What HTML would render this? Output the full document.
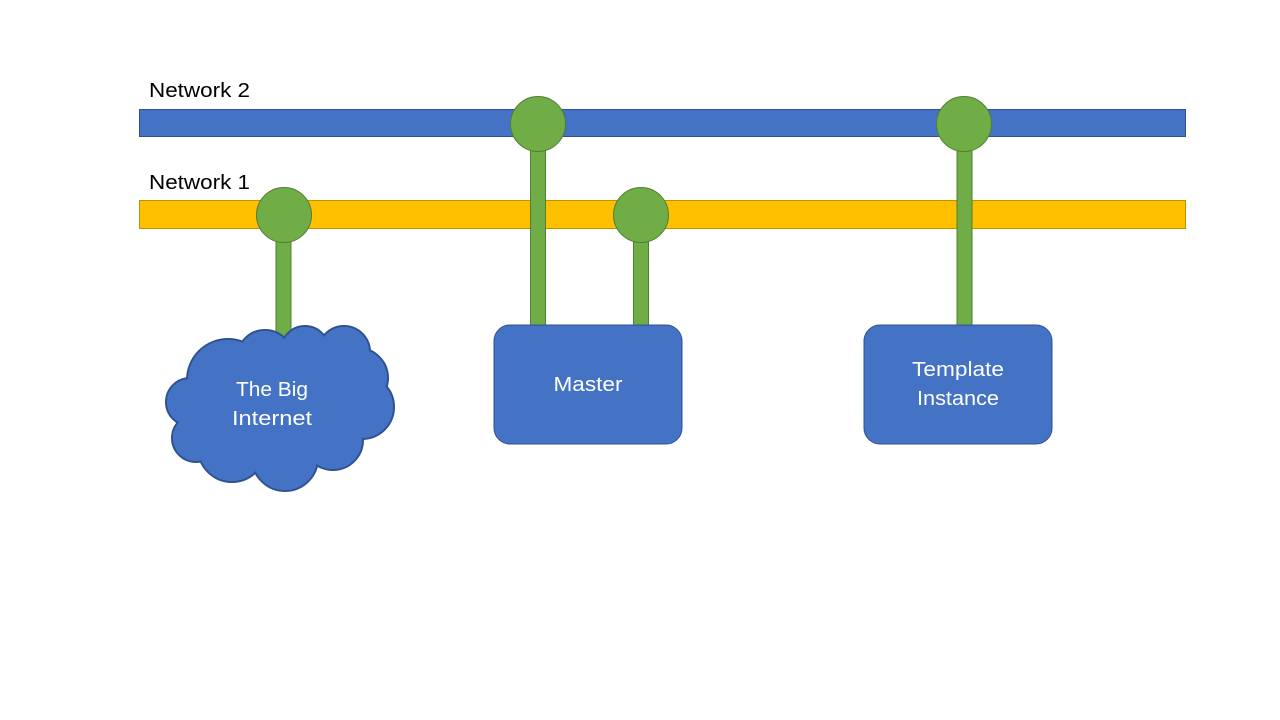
<!DOCTYPE html>
<html><head><meta charset="utf-8"><style>
html,body{margin:0;padding:0;background:#fff;}
svg{display:block;}
text{font-family:"Liberation Sans",sans-serif;}
</style></head><body>
<svg width="1280" height="720" viewBox="0 0 1280 720" xmlns="http://www.w3.org/2000/svg">
<rect x="0" y="0" width="1280" height="720" fill="#fff"/>
<text x="149" y="97" font-size="20" fill="#000" textLength="101" lengthAdjust="spacingAndGlyphs">Network 2</text>
<text x="149" y="189" font-size="20" fill="#000" textLength="101" lengthAdjust="spacingAndGlyphs">Network 1</text>
<rect x="139.5" y="109.5" width="1046" height="27" fill="#4472C4" stroke="#2F528F" stroke-width="1"/>
<rect x="139.5" y="200.5" width="1046" height="28" fill="#FFC000" stroke="#BF9000" stroke-width="1"/>
<g fill="#70AD47" stroke="#507E32" stroke-width="1">
<rect x="276" y="229" width="15" height="108"/>
<rect x="530.5" y="150" width="15" height="176"/>
<rect x="633.5" y="242" width="15" height="84"/>
<rect x="957" y="150" width="15" height="176"/>
<circle cx="538" cy="124" r="27.5"/>
<circle cx="964" cy="124" r="27.5"/>
<circle cx="284" cy="215" r="27.5"/>
<circle cx="641" cy="215" r="27.5"/>
</g>
<rect x="494" y="325" width="188" height="119" rx="16" fill="#4472C4" stroke="#2F528F" stroke-width="1"/>
<rect x="864" y="325" width="188" height="119" rx="16" fill="#4472C4" stroke="#2F528F" stroke-width="1"/>
<g stroke="#2F528F" stroke-width="2" fill="#4472C4">
<circle cx="228" cy="380" r="41"/>
<circle cx="265" cy="358" r="28"/>
<circle cx="305" cy="350" r="24"/>
<circle cx="344" cy="352" r="26"/>
<circle cx="358" cy="378" r="30"/>
<circle cx="362" cy="407" r="32"/>
<circle cx="190" cy="402" r="24"/>
<circle cx="196" cy="438" r="24"/>
<circle cx="232" cy="448" r="34"/>
<circle cx="285" cy="458" r="33"/>
<circle cx="333" cy="440" r="30"/>
</g>
<g fill="#4472C4">
<circle cx="228" cy="380" r="40"/>
<circle cx="265" cy="358" r="27"/>
<circle cx="305" cy="350" r="23"/>
<circle cx="344" cy="352" r="25"/>
<circle cx="358" cy="378" r="29"/>
<circle cx="362" cy="407" r="31"/>
<circle cx="190" cy="402" r="23"/>
<circle cx="196" cy="438" r="23"/>
<circle cx="232" cy="448" r="33"/>
<circle cx="285" cy="458" r="32"/>
<circle cx="333" cy="440" r="29"/>
<circle cx="280" cy="405" r="62"/>
<circle cx="212" cy="418" r="26"/>
</g>
<g fill="#fff" font-size="20" text-anchor="middle">
<text x="272" y="396" textLength="72" lengthAdjust="spacingAndGlyphs">The Big</text>
<text x="272" y="425" textLength="80" lengthAdjust="spacingAndGlyphs">Internet</text>
<text x="588" y="391" textLength="69" lengthAdjust="spacingAndGlyphs">Master</text>
<text x="958" y="376" textLength="92" lengthAdjust="spacingAndGlyphs">Template</text>
<text x="958" y="405" textLength="82" lengthAdjust="spacingAndGlyphs">Instance</text>
</g>
</svg>
</body></html>
